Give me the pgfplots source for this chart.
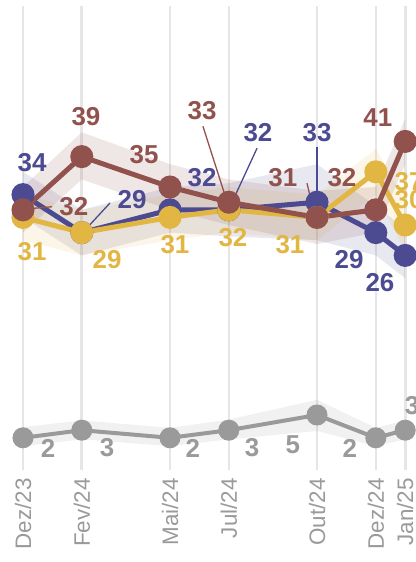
\documentclass[border=0pt]{standalone}
\usepackage{pgfplots}
\pgfplotsset{compat=1.18}
\usepackage{fontspec}
\setmainfont{Liberation Sans}
\definecolor{cblue}{HTML}{4C4A91}
\definecolor{cred}{HTML}{91524D}
\definecolor{cyel}{HTML}{E2B642}
\definecolor{cgray}{HTML}{9A9A9A}
\definecolor{gridc}{HTML}{E6E6E6}
\begin{document}
\begin{tikzpicture}[
  lbl/.style={font=\bfseries\fontsize{26}{26}\selectfont, inner sep=0pt},
  lead/.style={line width=1.3bp},
]
\begin{axis}[
  width=416bp, height=464bp, scale only axis,
  xmin=-0.782, xmax=13.367, ymin=-2.237, ymax=58.82,
  axis line style={draw=none},
  ytick=\empty,
  xtick={0,2,5,7,10,12,13},
  xticklabels={Dez/23,Fev/24,Mai/24,Jul/24,Out/24,Dez/24,Jan/25},
  xticklabel style={rotate=90, anchor=east, inner sep=1bp, font=\fontsize{22.5}{22.5}\selectfont, text=cgray},
  xticklabel shift=7bp,
  major tick length=0pt,
  xmajorgrids, grid style={color=gridc, line width=2.6bp},
  clip=false,
  /pgf/number format/assume math mode=true,
]
% bands
\addplot[draw=none, fill=cgray, fill opacity=0.14] coordinates {
 (0,3.4) (2,4.3) (5,3.3) (7,4.4) (10,7.0) (12,3.3) (13,4.3)
 (13,1.8) (12,0.9) (10,2.9) (7,1.8) (5,0.9) (2,1.8) (0,0.9)};
\addplot[draw=none, fill=cblue, fill opacity=0.13] coordinates {
 (0,37) (2,32) (5,35) (7,35.5) (10,38) (12,32.5) (13,29.5)
 (13,23) (12,26) (10,28) (7,28.5) (5,29) (2,26) (0,31)};
\addplot[draw=none, fill=cyel, fill opacity=0.13] coordinates {
 (0,34) (2,32) (5,34) (7,35) (10,34) (12,40) (13,33.5)
 (13,26.5) (12,34) (10,28) (7,29) (5,28) (2,26) (0,28)};
\addplot[draw=none, fill=cred, fill opacity=0.14] coordinates {
 (0,35) (2,42.2) (5,38) (7,36) (10,34.5) (12,35) (13,44)
 (13,38) (12,29) (10,27.5) (7,30) (5,32) (2,36) (0,29)};
% lines
\addplot[cgray, line width=4bp, mark=*, mark size=8.5bp, mark options={draw=none, fill=cgray}] coordinates {
 (0,2) (2,3) (5,2) (7,3) (10,5) (12,2) (13,3)};
\addplot[cblue, line width=5bp, mark=*, mark size=9bp, mark options={draw=none, fill=cblue}] coordinates {
 (0,34) (2,29) (5,32) (7,32) (10,33) (12,29) (13,26)};
\addplot[cyel, line width=5bp, mark=*, mark size=9bp, mark options={draw=none, fill=cyel}] coordinates {
 (0,31) (2,29) (5,31) (7,32) (10,31) (12,37) (13,30)};
\addplot[cred, line width=5bp, mark=*, mark size=9bp, mark options={draw=none, fill=cred}] coordinates {
 (0,32) (2,39) (5,35) (7,33) (10,31) (12,32) (13,41)};
% leader lines
\draw[lead, cred] (axis cs:0.05,32.1) -- (axis cs:0.99,32.4);
\draw[lead, cblue] (axis cs:2.1,29.3) -- (axis cs:2.96,32.9);
\draw[lead, cred] (axis cs:6.12,43.0) -- (axis cs:6.93,33.2);
\draw[lead, cblue] (axis cs:7.96,40.1) -- (axis cs:7.04,32.4);
\draw[lead, cred] (axis cs:9.66,35.5) -- (axis cs:9.86,32.2);
\draw[lead, cblue] (axis cs:10,40.3) -- (axis cs:10,33.3);
% labels
\node[lbl, text=cblue] at (axis cs:0.31,38.16) {34};
\node[lbl, text=cred] at (axis cs:1.73,32.37) {32};
\node[lbl, text=cyel] at (axis cs:0.31,26.45) {31};
\node[lbl, text=cred] at (axis cs:2.14,44.2) {39};
\node[lbl, text=cblue] at (axis cs:3.71,33.3) {29};
\node[lbl, text=cyel] at (axis cs:2.86,25.4) {29};
\node[lbl, text=cred] at (axis cs:4.12,39.2) {35};
\node[lbl, text=cblue] at (axis cs:6.09,36.3) {32};
\node[lbl, text=cyel] at (axis cs:5.17,27.4) {31};
\node[lbl, text=cred] at (axis cs:6.09,45.1) {33};
\node[lbl, text=cblue] at (axis cs:7.99,42.1) {32};
\node[lbl, text=cyel] at (axis cs:7.14,28.4) {32};
\node[lbl, text=cred] at (axis cs:8.84,36.2) {31};
\node[lbl, text=cblue] at (axis cs:10.0,42.2) {33};
\node[lbl, text=cyel] at (axis cs:9.08,27.4) {31};
\node[lbl, text=cred] at (axis cs:10.85,36.3) {32};
\node[lbl, text=cblue] at (axis cs:11.09,25.4) {29};
\node[lbl, text=cblue] at (axis cs:12.14,22.4) {26};
\node[lbl, text=cred] at (axis cs:12.07,44.2) {41};
\node[lbl, text=cyel] at (axis cs:13.13,35.7) {37};
\node[lbl, text=cyel] at (axis cs:13.13,33.3) {30};
\node[lbl, text=cgray] at (axis cs:0.85,0.66) {2};
\node[lbl, text=cgray] at (axis cs:2.86,0.66) {3};
\node[lbl, text=cgray] at (axis cs:5.78,0.66) {2};
\node[lbl, text=cgray] at (axis cs:7.79,0.66) {3};
\node[lbl, text=cgray] at (axis cs:9.18,1.05) {5};
\node[lbl, text=cgray] at (axis cs:11.12,0.66) {2};
\node[lbl, text=cgray] at (axis cs:13.23,6.3) {3};
\end{axis}
\pgfresetboundingbox
\path[use as bounding box] ([yshift=6bp]current axis.north west) rectangle ([yshift=-92bp]current axis.south east);
\end{tikzpicture}
\end{document}
